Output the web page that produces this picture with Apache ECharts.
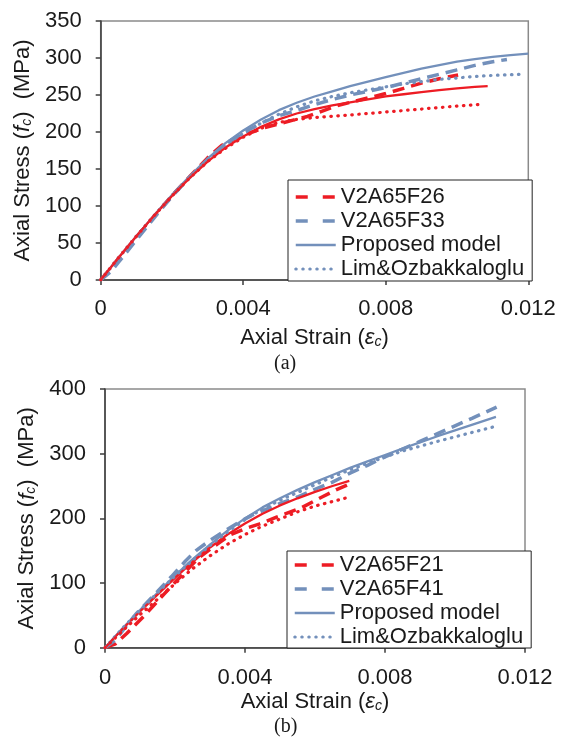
<!DOCTYPE html>
<html>
<head>
<meta charset="utf-8">
<script src="https://cdn.jsdelivr.net/npm/echarts@6/dist/echarts.min.js"></script>
<style>
  html, body { margin: 0; padding: 0; background: #ffffff; }
  #chart { width: 563px; height: 738px; }
</style>
</head>
<body>
<div id="chart"></div>
<script>
// ---- (a) specimens V2A65F26 / V2A65F33 : [axial strain, axial stress (MPa)] ----
const expF26 = [[0,0],[0.0005,29],[0.001,58],[0.0015,86],[0.002,114],[0.0025,140],[0.003,165],[0.0034,182],[0.0038,192],[0.0042,199],[0.0046,206],[0.005,211],[0.0054,216],[0.0058,221],[0.0062,228],[0.0066,235],[0.007,240],[0.0075,246],[0.008,252],[0.0085,259],[0.009,266],[0.0095,272],[0.01003,277]];
const expF33 = [[0,0],[0.0003,12],[0.0005,24],[0.001,54],[0.0015,84],[0.002,113],[0.0025,139],[0.003,163],[0.0035,184],[0.004,199],[0.0045,212],[0.005,222],[0.0055,229],[0.006,237],[0.0065,244],[0.007,250],[0.0075,255],[0.008,260],[0.0085,266],[0.009,272],[0.0095,278],[0.01,284],[0.0105,290],[0.011,295],[0.0114,298]];
const modelF33 = [[0,0],[0.0005,30],[0.001,59],[0.0015,87.5],[0.002,115],[0.0025,140.5],[0.003,164],[0.0035,185],[0.004,202],[0.0045,217],[0.005,229.5],[0.0055,239.5],[0.006,248],[0.0065,255],[0.007,262],[0.0075,268],[0.008,274],[0.0085,280],[0.009,285.5],[0.0095,290.5],[0.01,295],[0.0105,298.5],[0.011,301.5],[0.0115,304],[0.012,306]];
const modelF26 = [[0,0],[0.0005,30],[0.001,59],[0.0015,87],[0.002,113.5],[0.0025,138],[0.003,160],[0.0035,179],[0.004,194],[0.0045,207],[0.005,217],[0.0055,225],[0.006,231],[0.0065,236],[0.007,240],[0.0075,244],[0.008,248],[0.0085,251],[0.009,254],[0.0095,256.5],[0.01,259],[0.0105,261],[0.01086,262]];
const limF33 = [[0,0],[0.0005,30],[0.001,59],[0.0015,87],[0.002,114],[0.0025,139],[0.003,162],[0.0035,182],[0.004,198],[0.0045,212],[0.005,224],[0.0055,234],[0.006,242],[0.0065,248],[0.007,253],[0.0075,257],[0.008,261],[0.0085,265],[0.009,268],[0.0095,271],[0.01,273],[0.0105,275],[0.011,276.5],[0.01177,278]];
const limF26 = [[0,0],[0.0005,30],[0.001,59],[0.0015,87],[0.002,113.5],[0.0025,138],[0.003,160],[0.0035,178],[0.004,193],[0.0045,205],[0.005,213],[0.0055,217],[0.006,219.5],[0.007,223],[0.008,227],[0.009,231],[0.01,235],[0.0106,237]];

// ---- (b) specimens V2A65F21 / V2A65F41 ----
const expF21 = [[0,0],[0.0003,6],[0.00062,22],[0.0011,48],[0.00157,76],[0.00205,104],[0.0027,140],[0.0032,160],[0.0036,175],[0.004,184],[0.0044,191],[0.0049,202],[0.0056,216],[0.0062,233],[0.0066,244],[0.00698,253]];
const expF41 = [[0,0],[0.0003,12],[0.0006,33],[0.0009,53],[0.0012,70],[0.0015,87],[0.0019,110],[0.0023,134],[0.0026,150],[0.003,166],[0.0034,180],[0.0038,193],[0.0042,205],[0.0046,214],[0.005,223],[0.0055,233],[0.006,245],[0.0065,256],[0.007,270],[0.0075,282],[0.008,295],[0.0085,307],[0.009,319],[0.0095,331],[0.01,343],[0.0105,355],[0.01119,372]];
const modelF41 = [[0,0],[0.0005,30],[0.001,58],[0.0015,85],[0.002,111.5],[0.0025,136.5],[0.003,159.5],[0.0035,181],[0.004,200],[0.0045,217],[0.005,231],[0.0055,244],[0.006,256],[0.0065,267],[0.007,278],[0.0075,288],[0.008,298],[0.0085,308],[0.009,317.5],[0.0095,327],[0.01,336],[0.0105,345],[0.01117,357]];
const modelF21 = [[0,0],[0.0005,29],[0.001,56],[0.0015,82],[0.002,108],[0.0025,132.5],[0.003,155],[0.0035,175],[0.004,192],[0.0045,207],[0.005,220],[0.0055,231],[0.006,241],[0.0065,250],[0.00698,258]];
const limF41 = [[0,0],[0.0005,30],[0.001,58],[0.0015,85],[0.002,111],[0.0025,135],[0.003,158],[0.0035,179],[0.004,198],[0.0045,215],[0.005,228],[0.0055,240],[0.006,252],[0.0065,264],[0.007,275],[0.0075,285],[0.008,295],[0.0085,304],[0.009,311.5],[0.0095,319],[0.01,326],[0.0105,333],[0.01114,342]];
const limF21 = [[0,0],[0.0005,26],[0.001,51],[0.0015,75],[0.002,99],[0.0025,122],[0.003,142],[0.0035,160],[0.004,175],[0.0045,188],[0.005,199],[0.0055,210],[0.006,219],[0.0065,226],[0.00692,232]];

// legend entries and panel captions
const legendA = ['V2A65F26', 'V2A65F33', 'Proposed model', 'Lim&Ozbakkaloglu'];
const legendB = ['V2A65F21', 'V2A65F41', 'Proposed model', 'Lim&Ozbakkaloglu'];
const panelLabels = ['(a)', '(b)'];

const RED = '#ed1c24';
const BLUE = '#7390bb';
const INK = '#1a1a1a';
const AXIS = '#3c3c3c';
const SANS = 'Liberation Sans, Arial, sans-serif';
const SERIF = 'Liberation Serif, Times New Roman, serif';

const styles = {
  dashed: { width: 3.5, type: [12, 7], cap: 'butt' },
  solid: { width: 2.3, type: 'solid' },
  dotted: { width: 3.2, type: [0.5, 6.5], cap: 'round' }
};

function curve(name, data, color, kind, idx) {
  return {
    type: 'line', name, data,
    xAxisIndex: idx, yAxisIndex: idx,
    symbol: 'none', showSymbol: false,
    smooth: false,
    clip: true, animation: false,
    lineStyle: Object.assign({ color }, styles[kind]),
    itemStyle: { color }
  };
}

const nameRich = {
  i: { fontStyle: 'italic', fontSize: 22, fontFamily: SANS, color: INK },
  sub: { fontStyle: 'italic', fontSize: 14, fontFamily: SANS, color: INK, lineHeight: 8, verticalAlign: 'bottom' }
};

function xAxisOf(idx, gap, margin) {
  return {
    type: 'value', gridIndex: idx, min: 0, max: 0.012, interval: 0.004,
    name: 'Axial Strain ({i|ε}{sub|c})',
    nameLocation: 'middle', nameGap: gap,
    nameTextStyle: { fontSize: 22, fontFamily: SANS, color: INK, rich: nameRich },
    axisLine: { onZero: false, lineStyle: { color: AXIS, width: 1.5 } },
    axisTick: { show: true, length: 5, lineStyle: { color: AXIS, width: 1.5 } },
    axisLabel: { fontSize: 22, fontFamily: SANS, color: INK, margin },
    splitLine: { show: false }
  };
}

function yAxisOf(idx, max, interval, gap) {
  return {
    type: 'value', gridIndex: idx, min: 0, max, interval,
    name: 'Axial Stress ({i|f}{sub|c})  (MPa)',
    nameLocation: 'middle', nameGap: gap, nameRotate: 90,
    nameTextStyle: { fontSize: 22, fontFamily: SANS, color: INK, rich: nameRich },
    axisLine: { onZero: false, lineStyle: { color: AXIS, width: 1.5 } },
    axisTick: { show: true, length: 5, lineStyle: { color: AXIS, width: 1.5 } },
    axisLabel: { fontSize: 22, fontFamily: SANS, color: INK, margin: 19 },
    splitLine: { show: false }
  };
}

// legend keys are plain line samples (the marker dot is hidden)
const noMarker = { color: 'rgba(0,0,0,0)', borderWidth: 0, opacity: 0 };

function legendOf(names, left, top, padding) {
  return {
    orient: 'vertical', left, top, padding,
    itemWidth: 40, itemHeight: 14, itemGap: 2,
    borderColor: '#222', borderWidth: 1, backgroundColor: '#fff',
    selectedMode: false,
    itemStyle: noMarker,
    textStyle: { fontSize: 22, fontFamily: SANS, color: INK },
    data: [
      { name: names[0], itemStyle: noMarker, lineStyle: { color: RED, width: 3.5, type: [12, 15] } },
      { name: names[1], itemStyle: noMarker, lineStyle: { color: BLUE, width: 3.5, type: [12, 15] } },
      { name: names[2], itemStyle: noMarker, lineStyle: { color: BLUE, width: 2.3, type: 'solid' } },
      { name: names[3], itemStyle: noMarker, lineStyle: { color: BLUE, width: 3, type: [0.5, 6.5], cap: 'round' } }
    ]
  };
}

const chart = echarts.init(document.getElementById('chart'), null, { renderer: 'canvas' });

chart.setOption({
  backgroundColor: '#ffffff',
  animation: false,
  title: [
    { text: panelLabels[0], left: 274, top: 354, padding: 0,
      textStyle: { fontSize: 20, fontWeight: 'normal', fontFamily: SERIF, color: INK } },
    { text: panelLabels[1], left: 274, top: 717, padding: 0,
      textStyle: { fontSize: 20, fontWeight: 'normal', fontFamily: SERIF, color: INK } }
  ],
  grid: [
    { left: 100.7, top: 21, width: 427.6, height: 259, show: true, borderColor: '#8a8a8a', borderWidth: 1.5 },
    { left: 105, top: 389, width: 420, height: 258.7, show: true, borderColor: '#8a8a8a', borderWidth: 1.5 }
  ],
  xAxis: [xAxisOf(0, 47, 18), xAxisOf(1, 43, 19)],
  yAxis: [yAxisOf(0, 350, 50, 60), yAxisOf(1, 400, 100, 63)],
  legend: [
    legendOf(legendA, 288, 180, [6, 8, 1, 6]),
    legendOf(legendB, 287, 551, [3, 8, 0, 6])
  ],
  series: [
    curve(legendA[0], expF26, RED, 'dashed', 0),
    curve(legendA[1], expF33, BLUE, 'dashed', 0),
    curve('Proposed model', modelF33, BLUE, 'solid', 0),
    curve('Proposed model', modelF26, RED, 'solid', 0),
    curve('Lim&Ozbakkaloglu', limF33, BLUE, 'dotted', 0),
    curve('Lim&Ozbakkaloglu', limF26, RED, 'dotted', 0),

    curve(legendB[0], expF21, RED, 'dashed', 1),
    curve(legendB[1], expF41, BLUE, 'dashed', 1),
    curve('Proposed model', modelF41, BLUE, 'solid', 1),
    curve('Proposed model', modelF21, RED, 'solid', 1),
    curve('Lim&Ozbakkaloglu', limF41, BLUE, 'dotted', 1),
    curve('Lim&Ozbakkaloglu', limF21, RED, 'dotted', 1)
  ]
});
</script>
</body>
</html>
